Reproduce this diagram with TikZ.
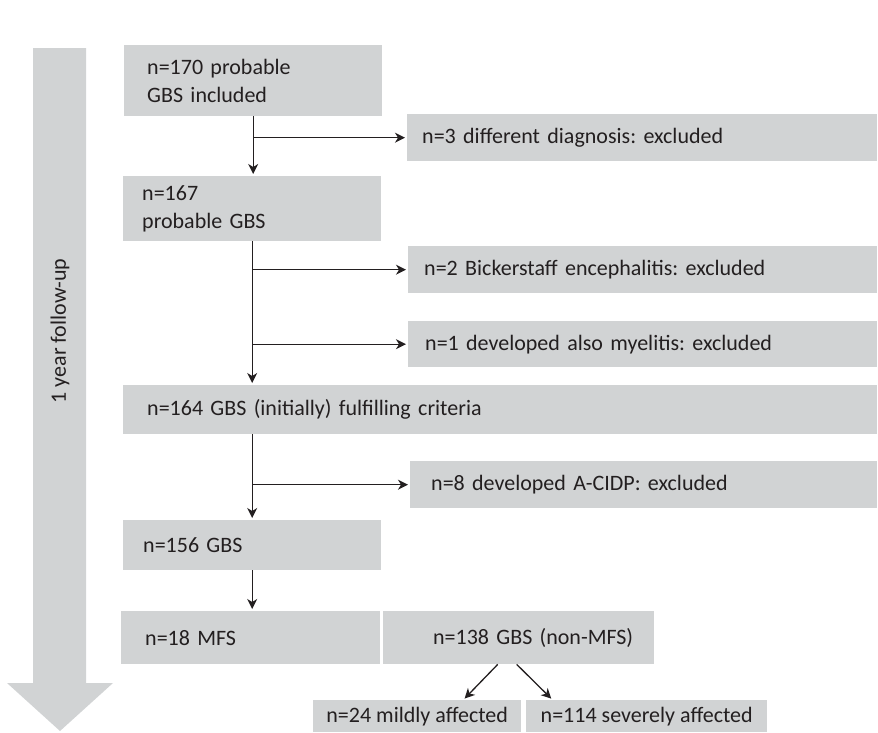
\documentclass[tikz,border=0pt]{standalone}
\usepackage{fontspec}
\setmainfont{Carlito}
\frenchspacing
\usetikzlibrary{arrows.meta,shapes}
\definecolor{boxgray}{RGB}{209,211,212}
\definecolor{inkgray}{RGB}{35,31,32}
\tikzstyle{gbox}=[fill=boxgray,anchor=north west,inner ysep=0pt,align=left,text=inkgray,font=\fontsize{22}{28}\selectfont]
\tikzstyle{flow}=[-{Stealth[length=10pt,width=10pt,inset=3pt]},line width=1.3pt,draw=inkgray,shorten >=2pt]

\begin{document}
\begin{tikzpicture}[x=1pt,y=-1pt]
\useasboundingbox (0,0) rectangle (878,732);
\fill[boxgray] (33,48) -- (86,48) -- (86,683) -- (113,683) -- (60,731) -- (7,683) -- (33,683) -- cycle;
\node[rotate=90,text=inkgray,font=\fontsize{22}{28}\selectfont] (fu) at (60,331) {1 year follow-up};
\node[gbox,minimum width=258pt,minimum height=71pt,inner xsep=23pt,text width=212pt] (b170) at (124,45) {n=170 probable\\GBS included};
\node[gbox,minimum width=470pt,minimum height=47pt,inner xsep=15pt,text width=440pt] (x3) at (407,114) {n=3 different diagnosis: excluded};
\node[gbox,minimum width=258pt,minimum height=65pt,inner xsep=19pt,text width=220pt] (b167) at (123,176) {n=167\\probable GBS};
\node[gbox,minimum width=469pt,minimum height=47pt,inner xsep=16pt,text width=437pt] (x2) at (408,246) {n=2 Bickerstaff encephalitis: excluded};
\node[gbox,minimum width=469pt,minimum height=46pt,inner xsep=17pt,text width=435pt] (x1) at (408,321) {n=1 developed also myelitis: excluded};
\node[gbox,minimum width=754pt,minimum height=49pt,inner xsep=24pt,text width=706pt] (b164) at (123,385) {n=164 GBS (initially) fulfilling criteria};
\node[gbox,minimum width=467pt,minimum height=47pt,inner xsep=21pt,text width=425pt] (x8) at (410,461) {n=8 developed A-CIDP: excluded};
\node[gbox,minimum width=258pt,minimum height=50pt,inner xsep=20pt,text width=218pt] (b156) at (123,520) {n=156 GBS};
\node[gbox,minimum width=259pt,minimum height=53pt,inner xsep=24pt,text width=211pt] (b18) at (121,611) {n=18 MFS};
\node[gbox,minimum width=271pt,minimum height=53pt,inner xsep=21pt,text width=229pt,align=right] (b138) at (383,611) {n=138 GBS (non-MFS)};
\node[gbox,minimum width=208pt,minimum height=32pt,align=center] (mild) at (313,700) {n=24 mildly affected};
\node[gbox,minimum width=241pt,minimum height=32pt,align=center] (sev) at (526,700) {n=114 severely affected};
\draw[flow] (b170.south) -- (b170.south |- b167.north);
\draw[flow] (b170.south |- x3.west) -- (x3.west);
\draw[flow] (b167.south) -- (b167.south |- b164.north);
\draw[flow] (b167.south |- x2.west) -- (x2.west);
\draw[flow] (b167.south |- x1.west) -- (x1.west);
\draw[flow] (b156.north |- b164.south) -- (b156.north);
\draw[flow] (b156.north |- x8.west) -- (x8.west);
\draw[flow] (b156.south) -- (b156.south |- b18.north);
\draw[flow] ([xshift=-21pt]b138.south) -- ([xshift=46pt]mild.north);
\draw[flow] ([xshift=-2pt]b138.south) -- ([xshift=-94pt]sev.north);
\end{tikzpicture}
\end{document}
